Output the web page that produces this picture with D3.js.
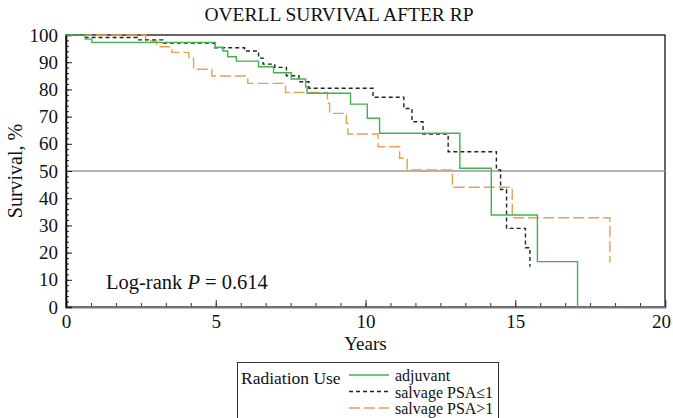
<!DOCTYPE html>
<html>
<head>
<meta charset="utf-8">
<script src="https://cdn.jsdelivr.net/npm/d3@7"></script>
<style>
	body { margin: 0; background: #fff; }
	svg { display: block; font-family: "Liberation Serif", "DejaVu Serif", serif; }
</style>
</head>
<body>
<svg id="chart" width="673" height="418"></svg>
<script>
// survival steps (years, %)
var adjuvantT = [0, 0.64, 0.86, 4.98, 5.24, 5.40, 5.69, 6.43, 6.93, 7.52, 8.00, 8.05, 9.50, 10.06, 10.47, 13.15, 14.20, 15.74, 17.08];
var adjuvantS = [100, 98.5, 97.3, 95.5, 94.1, 92.0, 90.4, 88.3, 86.1, 83.8, 81.0, 78.6, 74.6, 69.4, 63.9, 51.0, 33.8, 16.7, 0];

var lowPsaT = [0, 0.65, 2.38, 3.23, 4.96, 5.96, 6.43, 6.58, 6.97, 7.36, 7.78, 8.11, 10.25, 11.28, 11.55, 11.92, 12.76, 14.37, 14.51, 14.71, 15.34, 15.49];
var lowPsaS = [100, 99.1, 98.2, 97.0, 95.3, 94.1, 91.5, 89.3, 88.1, 85.0, 82.8, 80.4, 77.1, 73.0, 68.1, 63.6, 57.1, 50.4, 43.2, 28.9, 21.8, 14.8];

var highPsaT = [0, 2.66, 3.03, 3.54, 4.10, 4.26, 4.87, 6.07, 7.33, 8.73, 8.80, 9.36, 9.41, 10.42, 11.14, 11.39, 12.90, 14.90, 18.16];
var highPsaS = [100, 97.8, 95.7, 93.6, 91.4, 87.4, 84.9, 82.2, 78.9, 74.9, 71.2, 67.5, 63.6, 58.9, 54.7, 50.4, 44.0, 32.8, 16.3];

var seriesNames = ["adjuvant", "salvage PSA\u22641", "salvage PSA>1"];
var seriesColors = ["#3db54a", "#222222", "#e8a050"];
var seriesDash = ["none", "4,3", "11,4"];

var xTicks = [0, 5, 10, 15, 20];
var yTicks = [0, 10, 20, 30, 40, 50, 60, 70, 80, 90, 100];

var title = "OVERLL SURVIVAL AFTER RP";
var pValue = "0.614";

var svg = d3.select("#chart");
var plotLeft = 66, plotRight = 665, plotTop = 35, plotBottom = 307;

var x = d3.scaleLinear().domain([0, 20]).range([plotLeft, plotRight]);
var y = d3.scaleLinear().domain([0, 100]).range([plotBottom, plotTop]);

// frame
svg.append("rect")
	.attr("x", plotLeft).attr("y", plotTop)
	.attr("width", plotRight - plotLeft).attr("height", plotBottom - plotTop)
	.attr("fill", "none").attr("stroke", "#000").attr("stroke-width", 1.2);

// 50% reference
svg.append("line")
	.attr("x1", plotLeft).attr("x2", plotRight)
	.attr("y1", y(50)).attr("y2", y(50))
	.attr("stroke", "#999").attr("stroke-width", 1.3);

// axes, ticks pointing inwards
var xMinor = d3.range(0, 20.001, 5 / 6);
svg.append("g")
	.attr("transform", "translate(0," + plotBottom + ")")
	.call(d3.axisBottom(x).tickValues(xMinor).tickSize(-4).tickFormat(""))
	.call(function(g){ g.select(".domain").remove(); g.selectAll("line").attr("stroke", "#333"); });
var xAxis = svg.append("g")
	.attr("transform", "translate(0," + plotBottom + ")")
	.call(d3.axisBottom(x).tickValues(xTicks).tickSize(-7).tickPadding(8).tickFormat(d3.format("d")));
xAxis.select(".domain").attr("stroke", "#777").attr("stroke-width", 2);
xAxis.selectAll("line").attr("stroke", "#333");
xAxis.selectAll("text").attr("font-size", 19).attr("font-family", "Liberation Serif").attr("fill", "#111")
	.attr("dx", function(d){ return d == 20 ? -4 : 0; });

svg.append("g")
	.attr("transform", "translate(" + plotLeft + ",0)")
	.call(d3.axisLeft(y).tickValues(d3.range(0, 100.001, 2)).tickSize(-3).tickFormat(""))
	.call(function(g){ g.select(".domain").remove(); g.selectAll("line").attr("stroke", "#222"); });
var yAxis = svg.append("g")
	.attr("transform", "translate(" + plotLeft + ",0)")
	.call(d3.axisLeft(y).tickValues(yTicks).tickSize(-6).tickPadding(8).tickFormat(d3.format("d")));
yAxis.select(".domain").attr("stroke", "#000").attr("stroke-width", 1.5);
yAxis.selectAll("line").attr("stroke", "#222");
yAxis.selectAll("text").attr("font-size", 19).attr("font-family", "Liberation Serif").attr("fill", "#111");

// survival curves
var line = d3.line()
	.x(function(d){ return x(d[0]); })
	.y(function(d){ return y(d[1]); })
	.curve(d3.curveStepAfter);

var series = [
	d3.zip(adjuvantT, adjuvantS),
	d3.zip(lowPsaT, lowPsaS),
	d3.zip(highPsaT, highPsaS)
];
[2, 1, 0].forEach(function(i){
	svg.append("path")
		.datum(series[i])
		.attr("d", line)
		.attr("fill", "none")
		.attr("stroke", seriesColors[i])
		.attr("stroke-width", 1.4)
		.attr("stroke-dasharray", seriesDash[i]);
});

// texts
svg.append("text")
	.attr("x", 339).attr("y", 21)
	.attr("text-anchor", "middle").attr("font-size", 19.5).attr("fill", "#111")
	.text(title);

svg.append("text")
	.attr("transform", "translate(22," + ((plotTop + plotBottom) / 2) + ") rotate(-90)")
	.attr("text-anchor", "middle").attr("font-size", 20).attr("fill", "#111")
	.text("Survival, %");

svg.append("text")
	.attr("x", (plotLeft + plotRight) / 2).attr("y", 350)
	.attr("text-anchor", "middle").attr("font-size", 19).attr("fill", "#111")
	.text("Years");

var logRank = svg.append("text")
	.attr("x", 106).attr("y", 289)
	.attr("font-size", 20.5).attr("fill", "#111");
logRank.append("tspan").text("Log-rank ");
logRank.append("tspan").attr("font-style", "italic").text("P");
logRank.append("tspan").text(" = " + pValue);

// legend
var legend = svg.append("g");
legend.append("rect")
	.attr("x", 237.5).attr("y", 362.5)
	.attr("width", 261).attr("height", 70)
	.attr("fill", "#fff").attr("stroke", "#333").attr("stroke-width", 1);
legend.append("text")
	.attr("x", 241).attr("y", 384)
	.attr("font-size", 17.5).attr("fill", "#111")
	.text("Radiation Use");
seriesNames.forEach(function(name, i){
	var ly = 375 + i * 16.5;
	legend.append("line")
		.attr("x1", 349).attr("x2", 389)
		.attr("y1", ly).attr("y2", ly)
		.attr("stroke", seriesColors[i])
		.attr("stroke-width", 1.4)
		.attr("stroke-dasharray", seriesDash[i]);
	legend.append("text")
		.attr("x", 395).attr("y", ly + 6)
		.attr("font-size", 16).attr("fill", "#111")
		.text(name);
});
</script>
</body>
</html>
